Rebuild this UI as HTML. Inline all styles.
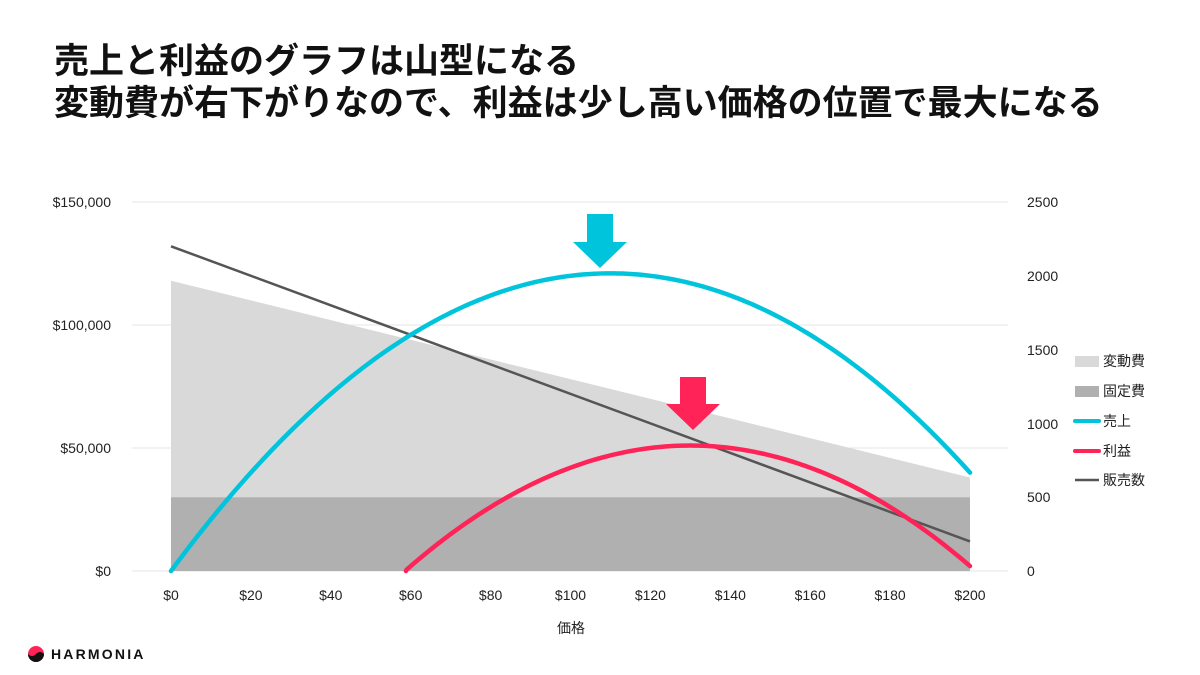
<!DOCTYPE html>
<html><head><meta charset="utf-8"><style>
body{margin:0;width:1200px;height:675px;background:#fff;overflow:hidden;font-family:"Liberation Sans","Noto Sans CJK JP",sans-serif}
h1{position:absolute;left:54px;top:41px;margin:0;font-size:35px;line-height:42px;font-weight:bold;color:#111;font-family:"Liberation Sans","Noto Sans CJK JP",sans-serif;white-space:nowrap}
svg text{font-family:"Liberation Sans","Noto Sans CJK JP",sans-serif;font-size:14px;fill:#222}
</style></head><body>
<h1>売上と利益のグラフは山型になる<br>変動費が右下がりなので、利益は少し高い価格の位置で最大になる</h1>
<svg width="1200" height="675" style="position:absolute;left:0;top:0">
<g stroke="#e6e6e6" stroke-width="1">
<line x1="132" x2="1008" y1="202" y2="202"/><line x1="132" x2="1008" y1="325" y2="325"/><line x1="132" x2="1008" y1="448" y2="448"/><line x1="132" x2="1008" y1="571" y2="571"/>
</g>
<g id="g"></g>
<g text-anchor="end"><text x="111" y="207">$150,000</text><text x="111" y="330">$100,000</text><text x="111" y="453">$50,000</text><text x="111" y="576">$0</text></g>
<g text-anchor="start"><text x="1027" y="207">2500</text><text x="1027" y="281">2000</text><text x="1027" y="355">1500</text><text x="1027" y="429">1000</text><text x="1027" y="502">500</text><text x="1027" y="576">0</text></g>
<g id="xt" text-anchor="middle"></g>
<text x="571" y="633" text-anchor="middle">価格</text>
<polygon points="587,214 613,214 613,242 627,242 600,268 573,242 587,242" fill="#00c4dc"/>
<polygon points="680,377 706,377 706,404 720,404 693,430 666,404 680,404" fill="#ff2357"/>
<g>
<rect x="1075" y="356" width="24" height="11" fill="#d9d9d9"/><text x="1103" y="366">変動費</text>
<rect x="1075" y="386" width="24" height="11" fill="#b0b0b0"/><text x="1103" y="396">固定費</text>
<line x1="1075" x2="1099" y1="421" y2="421" stroke="#00c4dc" stroke-width="4" stroke-linecap="round"/><text x="1103" y="426">売上</text>
<line x1="1075" x2="1099" y1="451" y2="451" stroke="#ff2357" stroke-width="4" stroke-linecap="round"/><text x="1103" y="456">利益</text>
<line x1="1075" x2="1099" y1="480" y2="480" stroke="#555" stroke-width="2.5"/><text x="1103" y="485">販売数</text>
</g>
<circle cx="36" cy="654" r="8" fill="#ff2357"/><path d="M28,654 a8,8 0 0 0 16,0 q-4,-4 -8,0 q-4,4 -8,0z" fill="#111"/>
<text x="51" y="659" style="font-size:14px;letter-spacing:2.2px;fill:#111;font-weight:bold">HARMONIA</text>
</svg>
<script>
var X=p=>171+p*3.995,Y=v=>571-v*369/150000,Q=q=>571-q*369/2500;
var g=document.getElementById('g'),s='';
s+='<polygon points="'+X(0)+','+Y(118000)+' '+X(200)+','+Y(38000)+' '+X(200)+','+Y(30000)+' '+X(0)+','+Y(30000)+'" fill="#d9d9d9"/>';
s+='<rect x="'+X(0)+'" y="'+Y(30000)+'" width="'+(X(200)-X(0))+'" height="'+(571-Y(30000))+'" fill="#b0b0b0"/>';
var a=[],b=[];
for(var p=0;p<=200;p+=1){a.push(X(p)+','+Y(p*(2200-10*p)));var pr=(p-40)*(2200-10*p)-30000;if(pr>=0)b.push(X(p)+','+Y(pr));}
b.unshift(X(58.8)+','+Y(0));
s+='<line x1="'+X(0)+'" y1="'+Q(2200)+'" x2="'+X(200)+'" y2="'+Q(200)+'" stroke="#555" stroke-width="2.5"/>';
s+='<polyline points="'+a.join(' ')+'" fill="none" stroke="#00c4dc" stroke-width="4.5" stroke-linecap="round"/>';
s+='<polyline points="'+b.join(' ')+'" fill="none" stroke="#ff2357" stroke-width="4.5" stroke-linecap="round"/>';
g.innerHTML=s;
var t='';for(var p=0;p<=200;p+=20)t+='<text x="'+X(p)+'" y="600">$'+p+'</text>';
document.getElementById('xt').innerHTML=t;
</script>
</body></html>
